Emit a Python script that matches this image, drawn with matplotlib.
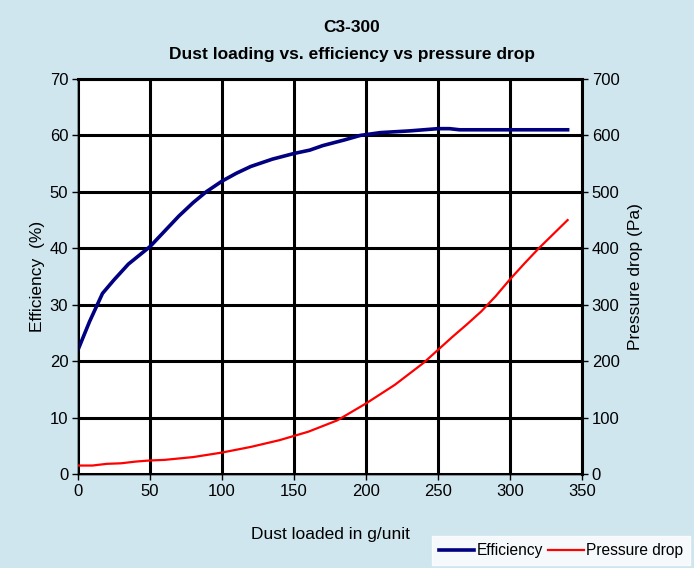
import matplotlib.pyplot as plt

plt.rcParams['font.family'] = ['Liberation Sans', 'DejaVu Sans']

# Datos
dust_eff = [0, 8, 17, 25, 35, 50, 60, 70, 80, 89, 100, 110, 120, 135, 150, 161, 170,
            185, 196, 210, 230, 250, 258, 265, 300, 340]
efficiency = [22, 27, 32, 34.4, 37.2, 40.3, 43, 45.7, 48.1, 50, 51.9, 53.3, 54.5, 55.8,
              56.8, 57.4, 58.2, 59.2, 60, 60.5, 60.8, 61.2, 61.2, 61, 61, 61]

dust_dp = [0, 10, 20, 30, 40, 50, 60, 80, 100, 120, 140, 160, 180, 200, 220, 240, 250,
           260, 270, 280, 290, 300, 310, 320, 330, 340]
pressure = [15, 15, 18, 19, 22, 24, 25, 30, 38, 48, 60, 75, 95, 125, 158, 197, 220,
            243, 265, 288, 315, 345, 373, 400, 425, 450]

x_ticks = [0, 50, 100, 150, 200, 250, 300, 350]
eff_ticks = [0, 10, 20, 30, 40, 50, 60, 70]
dp_ticks = [0, 100, 200, 300, 400, 500, 600, 700]

bg = '#cfe6ef'
fig = plt.figure(figsize=(6.94, 5.68), dpi=100, facecolor=bg)
ax = fig.add_axes([78/694, 1 - 474/568, 504/694, 395/568])
ax2 = ax.twinx()

l1, = ax.plot(dust_eff, efficiency, color='#000080', lw=2.6, label='Efficiency', zorder=5)
l2, = ax2.plot(dust_dp, pressure, color='#ff0000', lw=1.6, label='Pressure drop', zorder=5)

ax.set_xlim(0, 350)
ax.set_ylim(0, 70)
ax2.set_ylim(0, 700)
ax.set_xticks(x_ticks)
ax.set_yticks(eff_ticks)
ax2.set_yticks(dp_ticks)

ax.grid(True, color='black', lw=2.2)
ax.set_axisbelow(True)
ax.set_facecolor('white')

for a in (ax, ax2):
    for s in a.spines.values():
        s.set_linewidth(1.0)
    a.tick_params(direction='out', length=4, width=1, labelsize=12, pad=3)
ax2.spines['right'].set_linewidth(2.2)
ax2.spines['top'].set_linewidth(2.2)

ax.set_ylabel('Efficiency  (%)', fontsize=12.5, labelpad=3)
ax2.set_ylabel('Pressure drop (Pa)', fontsize=12.5, labelpad=6)
ax.set_xlabel('Dust loaded in g/unit', fontsize=12.5, labelpad=20)

fig.text(352 / 694, 1 - 27/568, 'C3-300', ha='center', va='center',
         fontsize=12.5, fontweight='bold')
fig.text(352 / 694, 1 - 55/568, 'Dust loading vs. efficiency vs pressure drop',
         ha='center', va='center', fontsize=12.5, fontweight='bold')

leg = fig.legend(handles=[l1, l2], loc='lower right', bbox_to_anchor=(690/694, 3/568),
                 ncol=2, frameon=True, fancybox=False, fontsize=11.2, handlelength=2.3,
                 handletextpad=0.15, columnspacing=0.3, borderpad=0.45, borderaxespad=0)
leg.get_frame().set_edgecolor('white')
leg.get_frame().set_facecolor('white')

fig.savefig('out.png', dpi=100, facecolor=bg)
